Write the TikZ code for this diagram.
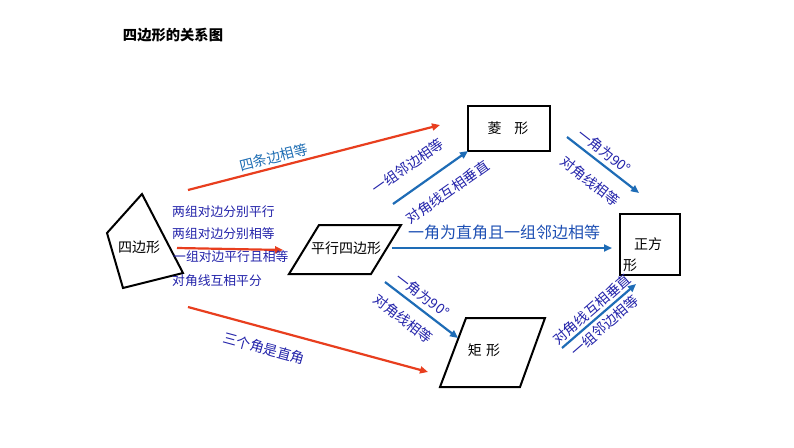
\documentclass[tikz,border=0pt]{standalone}
\usepackage{fontspec}
\setmainfont{Noto Sans CJK SC}
\usetikzlibrary{arrows.meta}
\definecolor{arrred}{RGB}{232,62,30}
\definecolor{arrblue}{RGB}{30,108,182}
\definecolor{lblnavy}{RGB}{35,35,170}
\definecolor{lblteal}{RGB}{30,110,180}
\definecolor{lblmid}{RGB}{30,80,180}
\tikzset{
  redarrow/.style={draw=arrred, line width=2.2pt, -{Triangle[length=8pt,width=7pt]}},
  bluearrow/.style={draw=arrblue, line width=2.2pt, -{Triangle[length=8pt,width=7pt]}},
  shapeline/.style={draw=black, line width=2pt, line join=miter},
  boxtext/.style={font=\fontsize{14}{16}\selectfont, inner sep=0pt, text=black},
  lbl/.style={font=\fontsize{14}{16}\selectfont, text=lblnavy, inner sep=0pt, sloped},
  sidelbl/.style={font=\fontsize{12.8}{14}\selectfont, text=lblnavy, anchor=west, inner sep=0pt},
}
\begin{document}
\begin{tikzpicture}[x=1pt,y=-1pt]
\useasboundingbox[fill=white] (0,0) rectangle (794,447);

% title
\node[font=\fontsize{14.3}{16}\selectfont\bfseries, inner sep=0pt] (title) at (173,35) {四边形的关系图};

% quadrilateral
\coordinate (q1) at (142,194);
\coordinate (q2) at (183,273);
\coordinate (q3) at (123,288);
\coordinate (q4) at (107,233);
\draw[shapeline] (q1) -- (q2) -- (q3) -- (q4) -- cycle;
\node[boxtext] (quad) at (139,247) {四边形};

% parallelogram
\coordinate (p1) at (319,225);
\coordinate (p2) at (401,225);
\coordinate (p3) at (371,274);
\coordinate (p4) at (289,274);
\draw[shapeline] (p1) -- (p2) -- (p3) -- (p4) -- cycle;
\node[boxtext] (para) at (346,248) {平行四边形};

% rhombus box
\node[draw, line width=2pt, minimum width=82pt, minimum height=45pt, inner sep=0pt] (rhombox) at (508.5,128.5) {};
\node[boxtext] (rhom) at (508,128) {菱\hspace{0.9em}形};

% square box
\node[draw, line width=2pt, minimum width=60pt, minimum height=61pt, inner sep=0pt] (sqbox) at (650,244.5) {};
\node[boxtext] (sqt1) at (648,244) {正方};
\node[boxtext] (sqt2) at (630,265) {形};

% rectangle (drawn as parallelogram)
\coordinate (r1) at (466,318);
\coordinate (r2) at (545,318);
\coordinate (r3) at (520,387);
\coordinate (r4) at (440,387);
\draw[shapeline] (r1) -- (r2) -- (r3) -- (r4) -- cycle;
\node[boxtext] (rect) at (484,350) {矩\hspace{0.3em}形};

% arrow endpoints
\coordinate (a1s) at (188,190);  \coordinate (a1e) at (440,125);
\coordinate (a2s) at (177,248);  \coordinate (a2e) at (283,250);
\coordinate (a3s) at (188,307);  \coordinate (a3e) at (428,372);
\coordinate (a4s) at (393,204);  \coordinate (a4e) at (468,151);
\coordinate (a5s) at (567,137);  \coordinate (a5e) at (639,193);
\coordinate (a6s) at (392,248);  \coordinate (a6e) at (612,248);
\coordinate (a7s) at (385,282);  \coordinate (a7e) at (458,338);
\coordinate (a8s) at (562,348);  \coordinate (a8e) at (636,284);

% red arrows
\draw[redarrow] (a1s) -- node[lbl, text=lblteal, pos=0.35, above=2.7pt] (l1) {四条边相等} (a1e);
\draw[redarrow] (a2s) -- (a2e);
\draw[redarrow] (a3s) -- node[lbl, pos=0.34, below=12.5pt] (l3) {三个角是直角} (a3e);

% side labels
\node[sidelbl] (s1) at (172,212) {两组对边分别平行};
\node[sidelbl] (s2) at (172,234) {两组对边分别相等};
\node[sidelbl] (s3) at (173,257) {一组对边平行且相等};
\node[sidelbl] (s4) at (172,281) {对角线互相平分};

% blue arrows
\draw[bluearrow] (a4s) -- node[lbl, pos=0.37, above=14.6pt] (l4a) {一组邻边相等}
                          node[lbl, pos=0.56, below=14.2pt] (l4b) {对角线互相垂直} (a4e);
\draw[bluearrow] (a5s) -- node[lbl, pos=0.42, above=4pt] (l5a) {一角为90°}
                          node[lbl, pos=0.5, below=13pt] (l5b) {对角线相等} (a5e);
\draw[bluearrow] (a6s) -- node[lbl, sloped=false, font=\fontsize{16}{18}\selectfont, text=lblmid, pos=0.51, above=7pt] (l6) {一角为直角且一组邻边相等} (a6e);
\draw[bluearrow] (a7s) -- node[lbl, pos=0.41, above=5pt] (l7a) {一角为90°}
                          node[lbl, pos=0.4, below=10.7pt] (l7b) {对角线相等} (a7e);
\draw[bluearrow] (a8s) -- node[lbl, pos=0.49, above=2pt] (l8a) {对角线互相垂直}
                          node[lbl, pos=0.48, below=3.5pt] (l8b) {一组邻边相等} (a8e);
\end{tikzpicture}
\end{document}
